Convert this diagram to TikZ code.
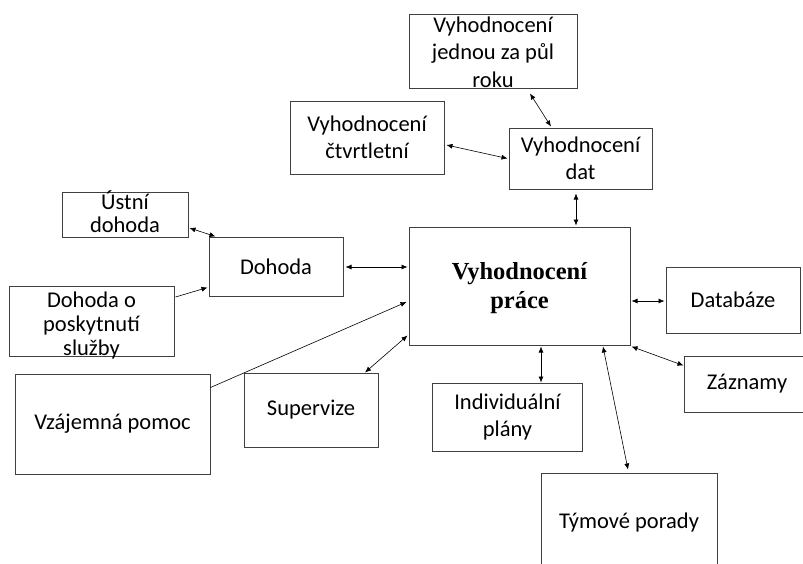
\documentclass[tikz,border=0pt]{standalone}
\usepackage{fontspec}
\setmainfont{Carlito}
\newfontfamily\headfont{Liberation Serif}
\usetikzlibrary{arrows.meta}
\tikzset{
  box/.style 2 args={draw=black!75, line width=1pt, minimum width=#1, minimum height=#2, inner sep=0pt},
  txt/.style={font=\fontsize{22.5}{27.5}\selectfont, align=center, inner sep=0pt},
  both/.style={{Latex[length=6pt,width=5pt]}-{Latex[length=6pt,width=5pt]}, line width=0.6pt},
  one/.style={-{Latex[length=6pt,width=5pt]}, line width=0.6pt},
}
\begin{document}
\begin{tikzpicture}[x=1pt, y=-1pt]
  \clip (0,0) rectangle (803,563);

  \node[box={168pt}{74pt}] (half) at (493,51) {};
  \node[box={154pt}{73pt}] (quart) at (367,137.5) {};
  \node[box={143pt}{61pt}] (dat) at (580.5,158.5) {};
  \node[box={126pt}{45pt}] (ustni) at (125,214.5) {};
  \node[box={134pt}{59pt}] (dohoda) at (276,266.5) {};
  \node[box={221pt}{118pt}] (main) at (519.5,286) {};
  \node[box={165pt}{70pt}] (posk) at (91.5,321) {};
  \node[box={134pt}{66pt}] (datab) at (733,300) {};
  \node[box={126pt}{56pt}] (zazn) at (747,384) {};
  \node[box={150pt}{68pt}] (indiv) at (507.5,417) {};
  \node[box={176pt}{98pt}] (tym) at (629,522) {};
  \node[box={134pt}{74pt}] (superv) at (311,410) {};
  \node[box={195pt}{100pt}] (vzaj) at (112.5,424) {};

  \node[txt] (half-t) at ([yshift=-1pt]half) {Vyhodnocení\\jednou za půl\\roku};
  \node[txt] (quart-t) at (quart) {Vyhodnocení\\čtvrtletní};
  \node[txt] (dat-t) at (dat) {Vyhodnocení\\dat};
  \node[txt, font=\fontsize{22.5}{23}\selectfont] (ustni-t) at ([yshift=3pt]ustni) {Ústní\\dohoda};
  \node[txt] (dohoda-t) at (dohoda) {Dohoda};
  \node[txt, font=\headfont\bfseries\fontsize{24.5}{29}\selectfont] (main-t) at ([yshift=-2pt]main) {Vyhodnocení\\práce};
  \node[txt, font=\fontsize{22.5}{24}\selectfont] (posk-t) at ([yshift=-4pt]posk) {Dohoda o\\poskytnutí\\služby};
  \node[txt] (datab-t) at (datab) {Databáze};
  \node[txt] (zazn-t) at (zazn) {Záznamy};
  \node[txt] (indiv-t) at (indiv) {Individuální\\plány};
  \node[txt] (tym-t) at (tym) {Týmové porady};
  \node[txt] (superv-t) at (superv) {Supervize};
  \node[txt] (vzaj-t) at (vzaj) {Vzájemná pomoc};

  \draw[both] ([shift={(37,5)}]half.south) -- ([shift={(-29.5,-1)}]dat.north);
  \draw[both] ([shift={(2,7.5)}]quart.east) -- ([shift={(-1,0)}]dat.west);
  \draw[both] ([shift={(-4.5,4)}]dat.south) -- ([shift={(56.5,-1)}]main.north);
  \draw[both] ([shift={(1,13.5)}]ustni.east) -- ([shift={(7,0)}]dohoda.north west);
  \draw[one] ([shift={(1,-24)}]posk.east) -- ([shift={(-1,-9)}]dohoda.south west);
  \draw[both] ([shift={(2,0.5)}]dohoda.east) -- ([shift={(-1,-19)}]main.west);
  \draw[one] ([shift={(0,14)}]vzaj.north east) -- ([shift={(-2,16)}]main.west);
  \draw[both] ([shift={(54,0)}]superv.north) -- ([shift={(-1,-10)}]main.south west);
  \draw[both] ([shift={(1,15)}]main.east) -- ([shift={(-1,1)}]datab.west);
  \draw[both] ([shift={(1,1)}]main.south east) -- ([shift={(0,10)}]zazn.north west);
  \draw[both] ([shift={(21.5,1)}]main.south) -- ([shift={(33.5,0)}]indiv.north);
  \draw[both] ([shift={(83.5,1)}]main.south) -- ([shift={(-1,-3)}]tym.north);
\end{tikzpicture}
\end{document}
